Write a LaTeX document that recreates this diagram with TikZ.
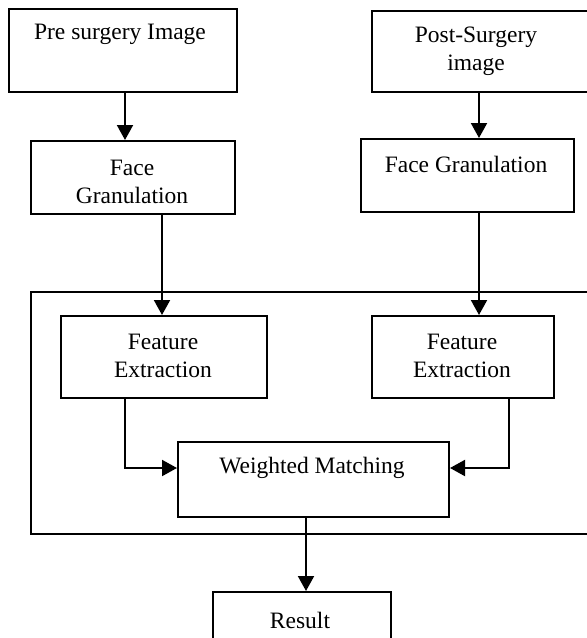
\documentclass[tikz,border=0pt]{standalone}
\usepackage{fontspec}
\setmainfont{Liberation Serif}
\usetikzlibrary{arrows.meta,calc}
\begin{document}
\begin{tikzpicture}[x=1pt,y=-1pt,
  box/.style={draw,line width=2pt,inner sep=0pt,anchor=north west},
  lbl/.style={inner sep=0pt,align=center,font=\fontsize{23.5}{28}\selectfont},
  arr/.style={line width=2pt,-{Triangle[width=16pt,length=15pt]}}]
\useasboundingbox (0,0) rectangle (587,638);
\clip (0,0) rectangle (587,638);
% big container
\node[box,minimum width=570pt,minimum height=242pt] (cont) at (30,291) {};
% boxes
\node[box,minimum width=228pt,minimum height=83pt] (pre) at (7.5,7.5) {};
\node[box,minimum width=230pt,minimum height=81pt] (post) at (371,10) {};
\node[box,minimum width=204pt,minimum height=73pt] (fgl) at (30,140) {};
\node[box,minimum width=213pt,minimum height=73pt] (fgr) at (360,138) {};
\node[box,minimum width=206pt,minimum height=82pt] (fel) at (60,315) {};
\node[box,minimum width=182pt,minimum height=82pt] (fer) at (371,315) {};
\node[box,minimum width=271pt,minimum height=75pt] (wm) at (177,441) {};
\node[box,minimum width=178pt,minimum height=70pt] (res) at (212,591) {};
% texts
\node[lbl] (tpre) at (120,34) {Pre surgery Image};
\node[lbl] (tpost) at (476,51) {Post-Surgery\\image};
\node[lbl] (tfgl) at (132,182) {Face\\Granulation};
\node[lbl] (tfgr) at (466,164) {Face Granulation};
\node[lbl] (tfel) at (163,356) {Feature\\Extraction};
\node[lbl] (tfer) at (462,356) {Feature\\Extraction};
\node[lbl] (twm) at (312,468) {Weighted Matching};
\node[lbl] (tres) at (300,620) {Result};
% connectors
\coordinate (xa) at (125,0);
\coordinate (xb) at (162,0);
\coordinate (xc) at (479,0);
\coordinate (xd) at (509,0);
\coordinate (xe) at (306,0);
\coordinate (yj) at (0,468);
\draw[arr] (pre.south -| xa) -- (fgl.north -| xa);
\draw[arr] (fgl.south -| xb) -- (fel.north -| xb);
\draw[arr] (post.south -| xc) -- (fgr.north -| xc);
\draw[arr] (fgr.south -| xc) -- (fer.north -| xc);
\draw[arr] (fel.south -| xa) |- (wm.west |- yj);
\draw[arr] (fer.south -| xd) |- (wm.east |- yj);
\draw[arr] (wm.south -| xe) -- (res.north -| xe);
\end{tikzpicture}
\end{document}
